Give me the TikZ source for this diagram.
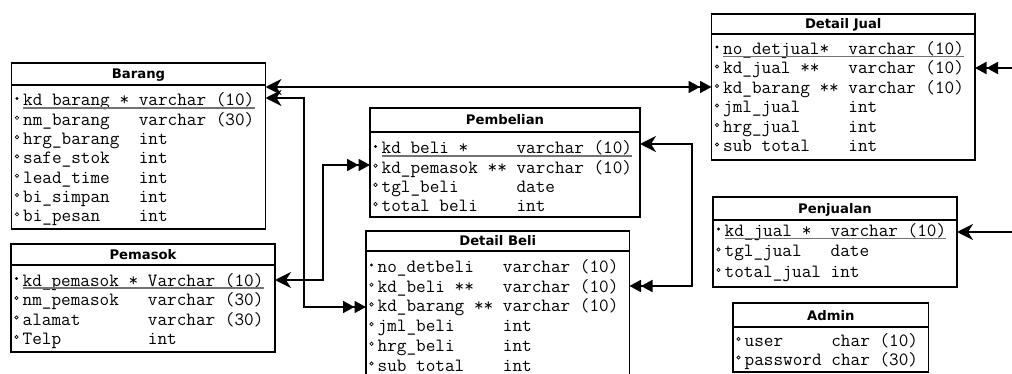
\documentclass[tikz,border=0pt]{standalone}
\usepackage{fontspec}
\newfontfamily\hdrfont{DejaVu Sans}
\usetikzlibrary{arrows.meta}
\tikzset{
 tblbox/.style={draw=black, line width=1.8pt, fill=white, inner sep=0pt, outer sep=0pt},
 hdrline/.style={line width=1.8pt},
 tbltitle/.style={font=\hdrfont\bfseries\fontsize{13.2pt}{15pt}\selectfont, inner sep=0pt, anchor=base},
 rowtext/.style={font=\ttfamily\fontsize{18.7pt}{20pt}\selectfont, inner sep=0pt, anchor=base west},
 uline/.style={draw=black!55, line width=1.3pt},
 keydot/.style={fill=black},
 attrdot/.style={draw=black, line width=0.7pt},
 conn/.style={line width=1.8pt},
 one/.tip={Stealth[length=16pt,width=16pt,inset=5pt]},
 many/.tip={Triangle[length=11.5pt,width=12pt,sep=0pt] Triangle[length=11.5pt,width=12pt,sep=0pt]},
}
\newcommand{\erTable}[7]{%
 \node[tblbox, anchor=north west, minimum width={(#4)-(#2)}, minimum height={(#6)-(#3)}] (#1) at (#2,#3) {};
 \draw[hdrline] (#2,#5) -- (#4,#5);
 \node[tbltitle] (#1-t) at ({(#2+#4)/2},{(#3+#5)/2+5}) {#7};
}
\newcommand{\erRow}[5]{%
 \node[rowtext] (#1) at ({#2+11.5},{#3+4.5}) {#5};
 \path[#4] ({#2+5.5},{#3-3}) circle (1.7pt);
}
\newcommand{\erKey}[1]{\draw[uline] ([yshift=-2pt]#1.base west) -- ([yshift=-2pt]#1.base east);}
\begin{document}
\begin{tikzpicture}[x=1pt,y=-1pt]
\useasboundingbox (0,0) rectangle (1012,374);
\clip (0,0) rectangle (1012,374);
% Barang
\erTable{bar}{11.5}{63}{265.5}{85}{229}{Barang}
\erRow{bar1}{11.5}{101.5}{keydot}{kd\_barang~*~varchar~(10)}\erKey{bar1}
\erRow{bar2}{11.5}{120.8}{attrdot}{nm\_barang~~~varchar~(30)}
\erRow{bar3}{11.5}{140.1}{attrdot}{hrg\_barang~~int}
\erRow{bar4}{11.5}{159.4}{attrdot}{safe\_stok~~~int}
\erRow{bar5}{11.5}{178.7}{attrdot}{lead\_time~~~int}
\erRow{bar6}{11.5}{198}{attrdot}{bi\_simpan~~~int}
\erRow{bar7}{11.5}{217.3}{attrdot}{bi\_pesan~~~~int}
% Pemasok
\erTable{pem}{11}{244}{275}{265}{352}{Pemasok}
\erRow{pem1}{11}{281.5}{keydot}{kd\_pemasok~*~Varchar~(10)}\erKey{pem1}
\erRow{pem2}{11}{301}{attrdot}{nm\_pemasok~~~varchar~(30)}
\erRow{pem3}{11}{320.5}{attrdot}{alamat~~~~~~~varchar~(30)}
\erRow{pem4}{11}{340}{attrdot}{Telp~~~~~~~~~int}
% Pembelian
\erTable{pbl}{370}{108}{640}{132}{217}{Pembelian}
\erRow{pbl1}{370}{149.5}{keydot}{kd\_beli~*~~~~~varchar~(10)}\erKey{pbl1}
\erRow{pbl2}{370}{168.7}{attrdot}{kd\_pemasok~**~varchar~(10)}
\erRow{pbl3}{370}{187.9}{attrdot}{tgl\_beli~~~~~~date}
\erRow{pbl4}{370}{207.1}{attrdot}{total~beli~~~~int}
% Detail Beli
\erTable{db}{366}{231}{629.5}{251}{390}{Detail Beli}
\erRow{db1}{366}{268}{keydot}{no\_detbeli~~~varchar~(10)}
\erRow{db2}{366}{287.7}{attrdot}{kd\_beli~**~~~varchar~(10)}
\erRow{db3}{366}{307.4}{attrdot}{kd\_barang~**~varchar~(10)}
\erRow{db4}{366}{327.1}{attrdot}{jml\_beli~~~~~int}
\erRow{db5}{366}{346.8}{attrdot}{hrg\_beli~~~~~int}
\erRow{db6}{366}{366.5}{attrdot}{sub~total~~~~int}
% Detail Jual
\erTable{dj}{711.5}{14}{975}{34}{160}{Detail Jual}
\erRow{dj1}{711.5}{50}{keydot}{no\_detjual*~~varchar~(10)}\erKey{dj1}
\erRow{dj2}{711.5}{69.5}{attrdot}{kd\_jual~**~~~varchar~(10)}
\erRow{dj3}{711.5}{89}{attrdot}{kd\_barang~**~varchar~(10)}
\erRow{dj4}{711.5}{108.5}{attrdot}{jml\_jual~~~~~int}
\erRow{dj5}{711.5}{128}{attrdot}{hrg\_jual~~~~~int}
\erRow{dj6}{711.5}{147.5}{attrdot}{sub~total~~~~int}
% Penjualan
\erTable{pj}{713}{197}{957}{220}{287}{Penjualan}
\erRow{pj1}{713}{232}{keydot}{kd\_jual~*~~varchar~(10)}\erKey{pj1}
\erRow{pj2}{713}{252.5}{attrdot}{tgl\_jual~~~date}
\erRow{pj3}{713}{273}{attrdot}{total\_jual~int}
% Admin
\erTable{adm}{733}{303}{928.5}{327}{372}{Admin}
\erRow{adm1}{733}{342}{attrdot}{user~~~~~char~(10)}
\erRow{adm2}{733}{360.5}{attrdot}{password~char~(30)}
% connectors
\coordinate (kA) at (304,98);
\coordinate (kB) at (304,307);
\coordinate (kC) at (323,280);
\coordinate (kD) at (323,165);
\coordinate (kE) at (692,144);
\coordinate (kF) at (692,286);
\coordinate (eJ) at (1020,68);
\coordinate (eP) at (1020,232);
\draw[conn, one-many] (bar.east |- 0,87) -- (dj.west |- 0,87);
\draw[conn, one-many] (bar.east |- 0,98) -- (kA) -- (kB) -- (db.west |- 0,307);
\draw[conn, one-many] (pem.east |- 0,280) -- (kC) -- (kD) -- (pbl.west |- 0,165);
\draw[conn, one-many] (pbl.east |- 0,144) -- (kE) -- (kF) -- (db.east |- 0,286);
\draw[conn, many-] (dj.east |- 0,68) -- (eJ);
\draw[conn, one-] (pj.east |- 0,232) -- (eP);
\end{tikzpicture}
\end{document}
